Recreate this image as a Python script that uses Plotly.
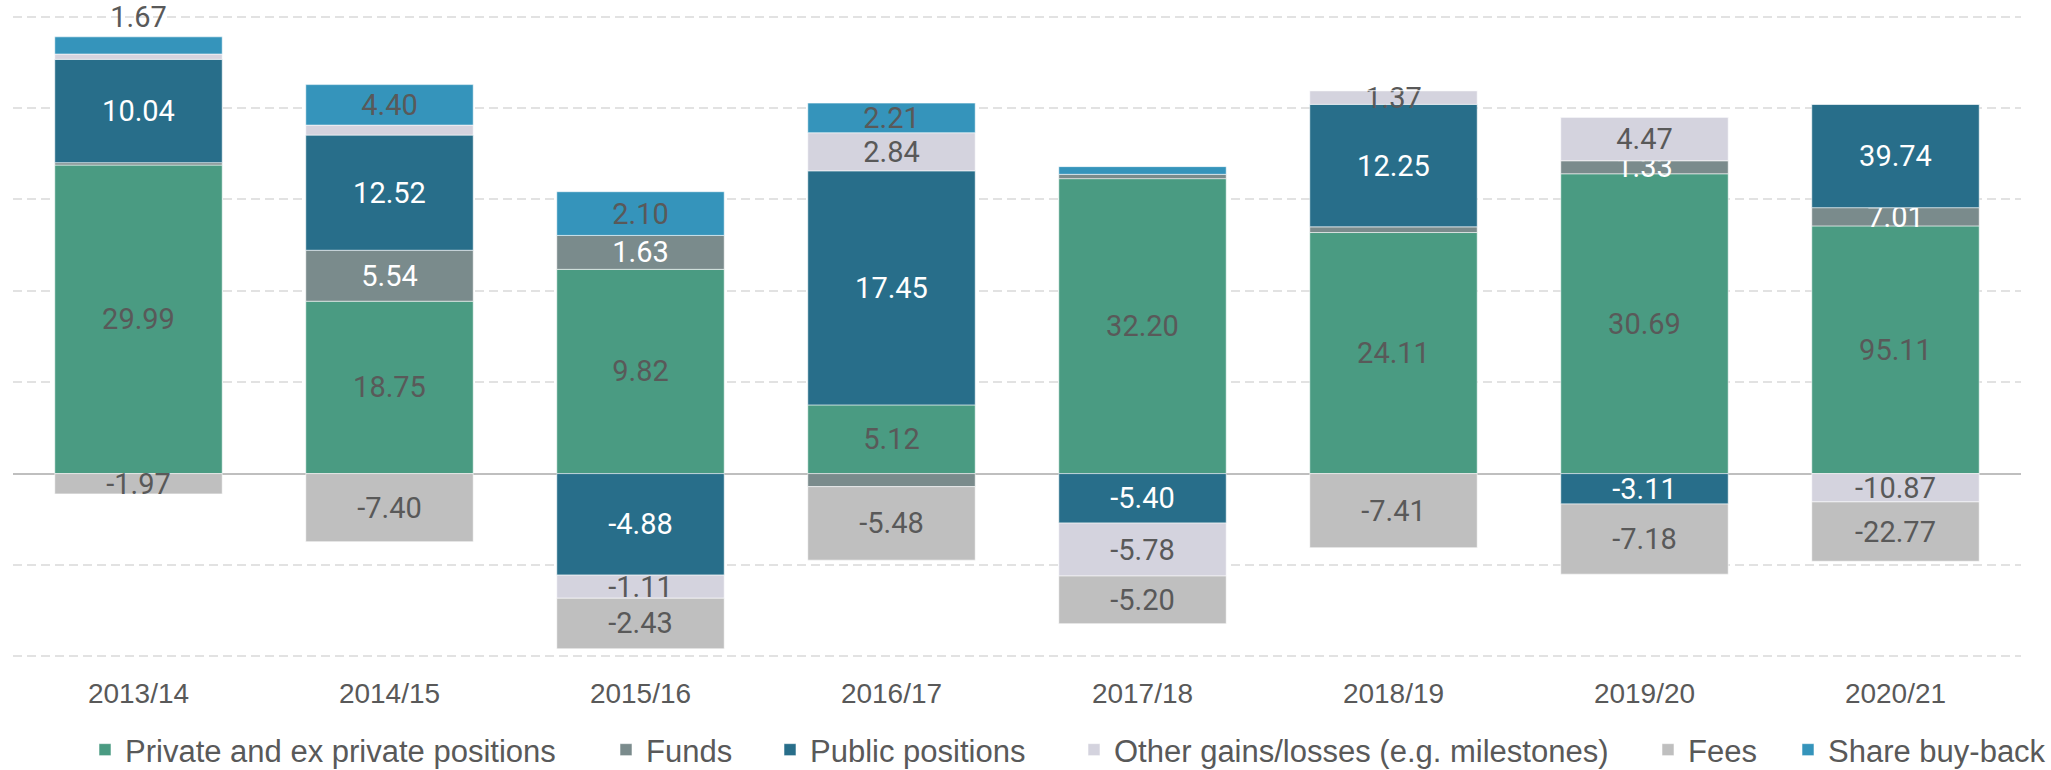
import plotly.graph_objects as go

# Contribution to performance by source, per financial year
years = ["2013/14", "2014/15", "2015/16", "2016/17",
         "2017/18", "2018/19", "2019/20", "2020/21"]

private_positions = [29.99, 18.75, 9.82, 5.12, 32.20, 24.11, 30.69, 95.11]
funds = [0.23, 5.54, 1.63, -0.97, 0.47, 0.57, 1.33, 7.01]
public_positions = [10.04, 12.52, -4.88, 17.45, -5.40, 12.25, -3.11, 39.74]
other_gains = [0.52, 1.09, -1.11, 2.84, -5.78, 1.37, 4.47, -10.87]
fees = [-1.97, -7.40, -2.43, -5.48, -5.20, -7.41, -7.18, -22.77]
share_buyback = [1.67, 4.40, 2.10, 2.21, 0.84, 0.0, 0.0, 0.0]

series = [
    ("Private and ex private positions", private_positions, "#4A9B82", "#595959"),
    ("Funds", funds, "#7A8B8C", "#FFFFFF"),
    ("Public positions", public_positions, "#286E8A", "#FFFFFF"),
    ("Other gains/losses (e.g. milestones)", other_gains, "#D4D3DE", "#595959"),
    ("Fees", fees, "#BFBFBF", "#595959"),
    ("Share buy-back", share_buyback, "#3594BB", "#595959"),
]

# each year's column is scaled to 100 % of its total absolute contribution
totals = [sum(abs(s[1][i]) for s in series) for i in range(len(years))]

LABEL_FONT = "Roboto, 'Open Sans', sans-serif"
AXIS_FONT = "'Liberation Sans', Arial, sans-serif"
MIN_LABEL = 1.1

# plot area in pixels, used to place the legend row
W, H = 2051, 770
ML, MR, MT, MB = 13, 30, 12, 109
plot_w = W - ML - MR
plot_h = H - MT - MB

# left edge (px) of each legend entry's swatch along the bottom row
legend_swatch_px = [99, 620, 784, 1088, 1662, 1802]
legend_row_px = 750

fig = go.Figure()
for k, (name, values, color, txtcolor) in enumerate(series):
    shares = [v / t * 100 for v, t in zip(values, totals)]
    labels = [f"{v:.2f}" if abs(v) >= MIN_LABEL else "" for v in values]
    # the top segment of the first column carries its label above the bar
    positions = ["outside" if (name == "Share buy-back" and i == 0) else "inside"
                 for i in range(len(values))]
    fig.add_trace(go.Bar(
        name=name,
        x=years,
        y=shares,
        customdata=values,
        text=labels,
        textposition=positions,
        insidetextanchor="middle",
        textangle=0,
        constraintext="none",
        cliponaxis=False,
        insidetextfont=dict(family=LABEL_FONT, size=29, color=txtcolor),
        outsidetextfont=dict(family=LABEL_FONT, size=29, color="#595959"),
        marker=dict(color=color, line=dict(color="rgba(255,255,255,0.55)", width=1)),
        legend="legend" if k == 0 else f"legend{k + 1}",
        hovertemplate="%{x}<br>" + name + ": %{customdata:.2f}<extra></extra>",
    ))

legends = {}
for k, px in enumerate(legend_swatch_px):
    key = "legend" if k == 0 else f"legend{k + 1}"
    legends[key] = dict(
        orientation="h",
        x=(px - 14 - ML) / plot_w,
        xanchor="left",
        y=(MT + plot_h - legend_row_px) / plot_h,
        yanchor="middle",
        font=dict(family=AXIS_FONT, size=31, color="#595959"),
        bgcolor="rgba(0,0,0,0)",
        borderwidth=0,
        itemwidth=30,
    )

fig.update_layout(
    width=W,
    height=H,
    barmode="relative",
    bargap=0.333,
    plot_bgcolor="#FFFFFF",
    paper_bgcolor="#FFFFFF",
    margin=dict(l=ML, r=MR, t=MT, b=MB, autoexpand=False),
    uniformtext=dict(mode="show", minsize=29),
    showlegend=True,
    xaxis=dict(
        type="category",
        showgrid=False,
        showline=False,
        ticks="",
        automargin=False,
        tickfont=dict(family=AXIS_FONT, size=28, color="#595959"),
        ticklabelstandoff=13,
    ),
    yaxis=dict(
        range=[-41, 101],
        tick0=0,
        dtick=20,
        showticklabels=False,
        automargin=False,
        showgrid=True,
        gridcolor="#E2E2E2",
        gridwidth=1.5,
        griddash="9px,5px",
        zeroline=True,
        zerolinecolor="#BFBFBF",
        zerolinewidth=2,
        showline=False,
        ticks="",
    ),
    **legends,
)

fig.write_html("out.html")
